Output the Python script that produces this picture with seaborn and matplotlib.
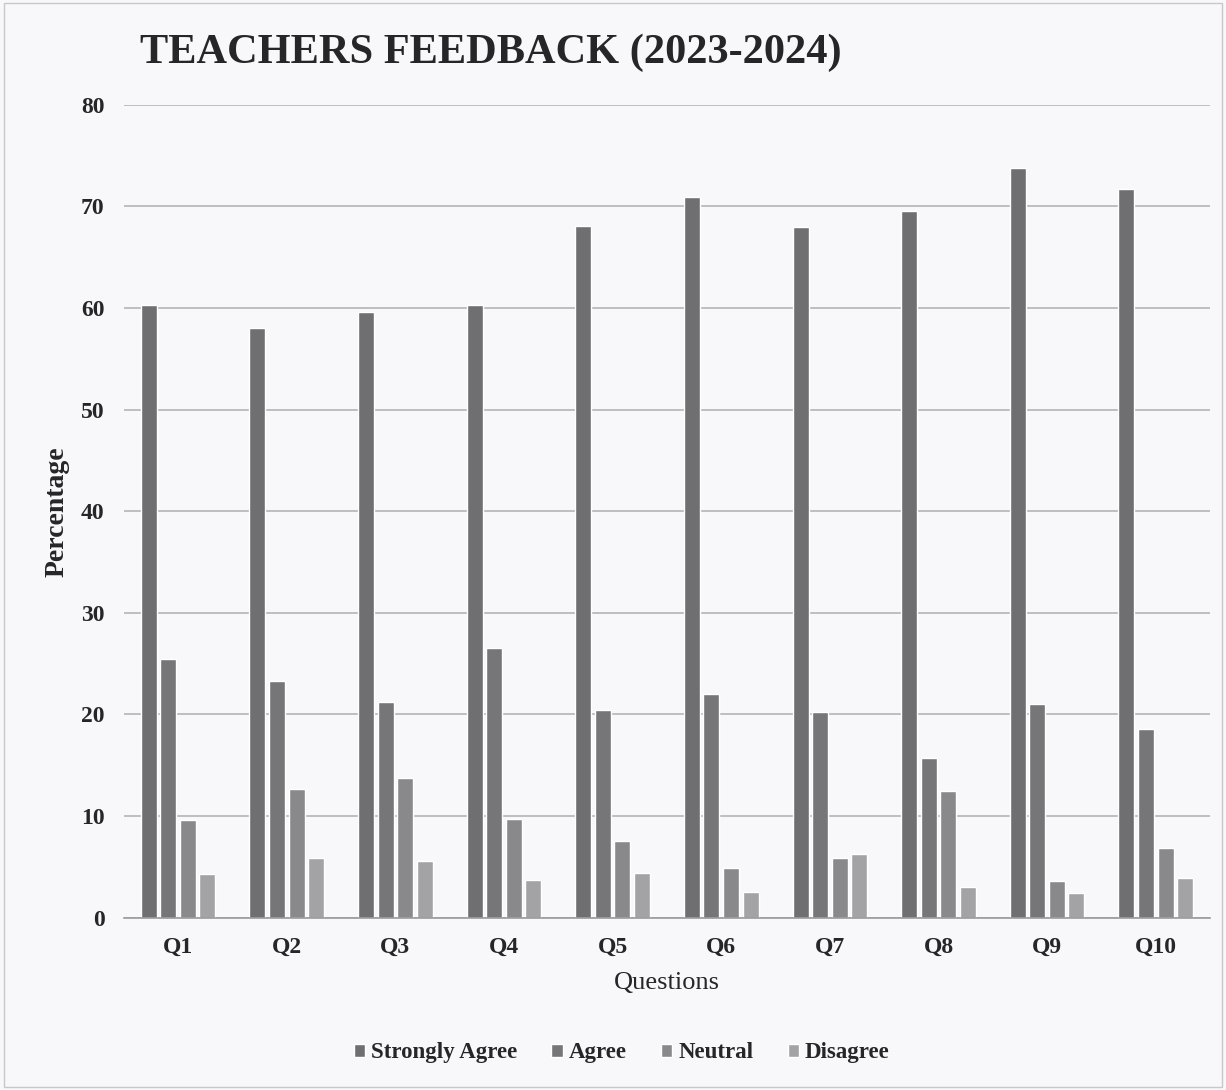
import matplotlib
matplotlib.use("Agg")
import matplotlib.pyplot as plt
import pandas as pd
import seaborn as sns

questions = ["Q1", "Q2", "Q3", "Q4", "Q5", "Q6", "Q7", "Q8", "Q9", "Q10"]
strongly_agree = [60.3, 58.0, 59.6, 60.3, 68.1, 70.9, 68.0, 69.5, 73.8, 71.7]
agree = [25.5, 23.3, 21.2, 26.5, 20.4, 22.0, 20.2, 15.7, 21.0, 18.6]
neutral = [9.6, 12.7, 13.8, 9.7, 7.6, 4.9, 5.9, 12.5, 3.6, 6.9]
disagree = [4.3, 5.9, 5.6, 3.7, 4.4, 2.5, 6.3, 3.0, 2.4, 3.9]
series = ["Strongly Agree", "Agree", "Neutral", "Disagree"]
colors = ["#6f6f72", "#767679", "#88888c", "#a2a2a6"]

rows = []
for name, vals in zip(series, [strongly_agree, agree, neutral, disagree]):
    for q, v in zip(questions, vals):
        rows.append({"Question": q, "Response": name, "Percentage": v})
df = pd.DataFrame(rows)

sns.set_style("white")
plt.rcParams["font.family"] = ["Liberation Serif", "DejaVu Serif"]

bg = "#f8f8fb"
fig = plt.figure(figsize=(12.26, 10.9), dpi=100, facecolor=bg)
ax = fig.add_axes([0.101, 0.158, 0.886, 0.746])
ax.set_facecolor(bg)

sns.barplot(data=df, x="Question", y="Percentage", hue="Response",
            palette=colors, width=0.72, gap=0.18, ax=ax, legend=True)

ax.set_ylim(0, 80)
ax.set_xlim(-0.5, 9.5)
ax.set_yticks(range(0, 81, 10))
ax.yaxis.grid(True, color="#b4b4b8", linewidth=1.2)
ax.set_axisbelow(True)
for s in ["left", "right", "top"]:
    ax.spines[s].set_visible(False)
ax.spines["bottom"].set_color("#9a9a9e")
ax.spines["bottom"].set_linewidth(1.2)
ax.tick_params(axis="y", length=0, labelsize=17, pad=14)
ax.tick_params(axis="x", length=0, labelsize=17, pad=14)
for lab in ax.get_xticklabels() + ax.get_yticklabels():
    lab.set_fontweight("bold")

ax.set_xlabel("Questions", fontsize=19, labelpad=10)
ax.set_ylabel("Percentage", fontsize=20, fontweight="bold", labelpad=8)

fig.text(0.114, 0.952, "TEACHERS FEEDBACK (2023-2024)", fontsize=30.5,
         fontweight="bold", va="center", ha="left")

handles, labels = ax.get_legend_handles_labels()
ax.get_legend().remove()
fig.legend(handles, labels, loc="center", bbox_to_anchor=(0.507, 0.034),
           ncol=4, frameon=False, handlelength=0.5, handleheight=0.5,
           handletextpad=0.25, columnspacing=1.5,
           prop={"family": "Liberation Serif", "weight": "bold", "size": 16.5})

fig.patches.append(plt.Rectangle((0.003, 0.003), 0.994, 0.994, transform=fig.transFigure,
                                 fill=False, edgecolor="#c8c8cc", linewidth=1))

fig.savefig("out.png", dpi=100, facecolor=bg)
